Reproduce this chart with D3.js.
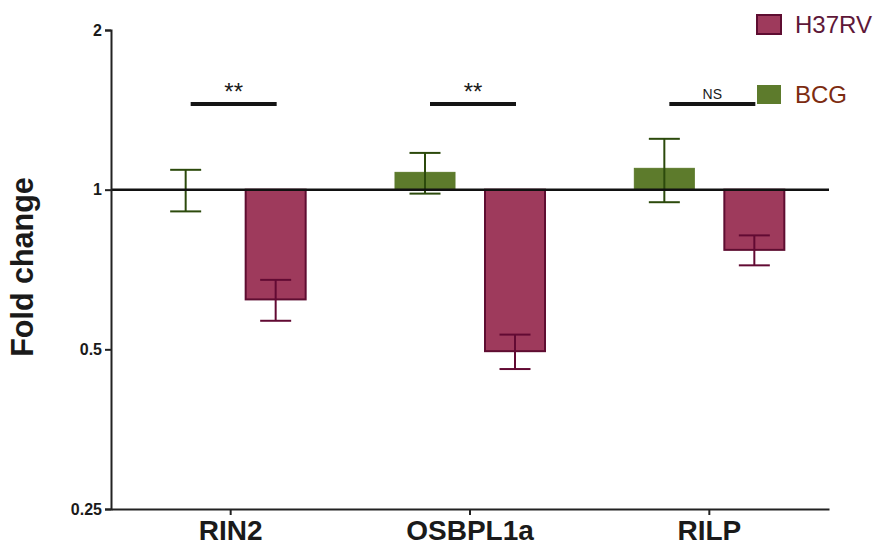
<!DOCTYPE html>
<html>
<head>
<meta charset="utf-8">
<script src="https://cdn.jsdelivr.net/npm/d3@7/dist/d3.min.js"></script>
<style>
  html, body { margin: 0; padding: 0; background: #fff; }
  svg { display: block; font-family: "Liberation Sans", Arial, Helvetica, sans-serif; }
</style>
</head>
<body>
<svg id="chart" width="874" height="547"></svg>
<script>
// ---- data ----
const categories = ["RIN2", "OSBPL1a", "RILP"];
const series = ["BCG", "H37RV"];
const bcgMean = [1.0, 1.078, 1.097];
const bcgSem = [0.09, 0.095, 0.15];
const h37rvMean = [0.621, 0.496, 0.770];
const h37rvSem = [0.055, 0.037, 0.05];
const significance = ["**", "**", "NS"];
const yTicks = [0.25, 0.5, 1, 2];
const legendOrder = ["H37RV", "BCG"];

(function () {
// ---- styles ----
const fills = { BCG: "#5d7b2c", H37RV: "#9e3a5c" };
const strokes = { BCG: "#5d7b2c", H37RV: "#5e0d31" };
const errColors = { BCG: "#2c4a0c", H37RV: "#620a33" };
const legendText = { BCG: "#7c2b10", H37RV: "#5e1738" };

const svg = d3.select("#chart");
const mLeft = 111, mRight = 829, mTop = 30, mBottom = 509;

const x0 = d3.scaleBand().domain(categories).range([mLeft, mRight]).padding(0);
const bw = x0.bandwidth();
const x1 = d3.scaleBand().domain(series).range([bw / 2 - 75, bw / 2 + 75]).paddingInner(1 / 3).paddingOuter(0);
const y = d3.scaleLog().base(2).domain([0.25, 2]).range([mBottom, mTop]);

const rows = [];
categories.forEach((c, i) => {
  rows.push({ cat: c, s: "BCG", mean: bcgMean[i], sem: bcgSem[i] });
  rows.push({ cat: c, s: "H37RV", mean: h37rvMean[i], sem: h37rvSem[i] });
});

// bars
const g = svg.append("g");
g.selectAll("rect.bar").data(rows).join("rect")
  .attr("class", "bar")
  .attr("x", d => x0(d.cat) + x1(d.s))
  .attr("width", x1.bandwidth())
  .attr("y", d => Math.min(y(d.mean), y(1)))
  .attr("height", d => Math.abs(y(d.mean) - y(1)))
  .attr("fill", d => fills[d.s])
  .attr("stroke", d => strokes[d.s])
  .attr("stroke-width", d => d.s === "H37RV" ? 2 : 1);

// error bars
const capW = 31;
const cxOf = d => x0(d.cat) + x1(d.s) + x1.bandwidth() / 2;
const eb = g.selectAll("g.err").data(rows).join("g").attr("class", "err")
  .attr("stroke", d => errColors[d.s]).attr("stroke-width", 2);
eb.append("line")
  .attr("x1", cxOf).attr("x2", cxOf)
  .attr("y1", d => y(d.mean + d.sem))
  .attr("y2", d => y(d.mean - d.sem));
eb.selectAll("line.cap").data(d => [
    { d, v: d.mean + d.sem }, { d, v: d.mean - d.sem }
  ]).join("line").attr("class", "cap")
  .attr("x1", e => cxOf(e.d) - capW / 2)
  .attr("x2", e => cxOf(e.d) + capW / 2)
  .attr("y1", e => y(e.v)).attr("y2", e => y(e.v));

// baseline at 1
svg.append("line")
  .attr("x1", mLeft).attr("x2", mRight)
  .attr("y1", y(1)).attr("y2", y(1))
  .attr("stroke", "#111").attr("stroke-width", 2.5);

// axes
const yAxis = d3.axisLeft(y).tickValues(yTicks).tickFormat(d => String(d)).tickSize(6).tickPadding(3);
const ya = svg.append("g").attr("transform", `translate(${mLeft},0)`).call(yAxis);
ya.select(".domain").attr("stroke", "#222").attr("stroke-width", 2);
ya.selectAll(".tick line").attr("stroke", "#222").attr("stroke-width", 2);
ya.selectAll(".tick text").attr("font-size", 16).attr("font-weight", "bold").attr("fill", "#1a1a1a")
  .attr("font-family", "Liberation Sans, Arial, sans-serif");

const xAxis = d3.axisBottom(x0).tickSize(6).tickSizeOuter(0).tickPadding(8);
const xa = svg.append("g").attr("transform", `translate(0,${mBottom})`).call(xAxis);
xa.select(".domain").attr("stroke", "#222").attr("stroke-width", 2);
xa.selectAll(".tick line").attr("stroke", "#222").attr("stroke-width", 2);
xa.selectAll(".tick text").attr("font-size", 28).attr("font-weight", "bold").attr("fill", "#1a1a1a")
  .attr("font-family", "Liberation Sans, Arial, sans-serif")
  .attr("dy", null).attr("y", 31);

// y title
svg.append("text")
  .attr("transform", `translate(33,267) rotate(-90)`)
  .attr("text-anchor", "middle")
  .attr("font-size", 30.5).attr("font-weight", "bold").attr("fill", "#1a1a1a")
  .text("Fold change");

// significance
const sigY = 104;
const sg = svg.append("g");
categories.forEach((c, i) => {
  const cx = x0(c) + bw / 2;
  const xs1 = cx - 40, xs2 = cx + 46;
  sg.append("line").attr("x1", xs1).attr("x2", xs2).attr("y1", sigY).attr("y2", sigY)
    .attr("stroke", "#151515").attr("stroke-width", 4);
  const isNS = significance[i] === "NS";
  sg.append("text")
    .attr("x", (xs1 + xs2) / 2)
    .attr("y", isNS ? 99 : 100)
    .attr("text-anchor", "middle")
    .attr("font-size", isNS ? 14 : 24)
    .attr("fill", "#1a1a1a")
    .text(significance[i]);
});

// legend
const lg = svg.append("g");
legendOrder.forEach((s, i) => {
  const yy = 15 + i * 70;
  lg.append("rect").attr("x", 757).attr("y", yy).attr("width", 24).attr("height", 19)
    .attr("fill", fills[s]).attr("stroke", strokes[s]).attr("stroke-width", s === "H37RV" ? 2 : 0);
  lg.append("text").attr("x", 795).attr("y", yy + 18)
    .attr("font-size", 24).attr("fill", legendText[s]).text(s);
});
})();
</script>
</body>
</html>
